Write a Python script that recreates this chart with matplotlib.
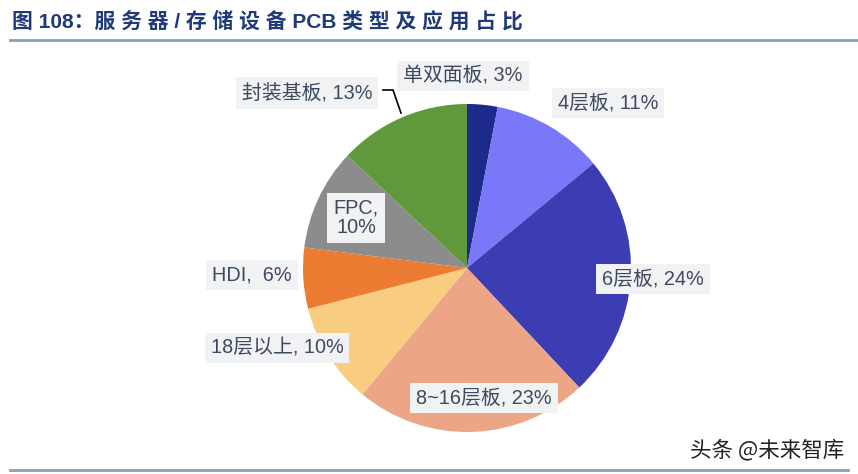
import matplotlib.pyplot as plt

plt.rcParams['font.family'] = ['Liberation Sans', 'Noto Sans CJK SC', 'DejaVu Sans']

# data
labels = ['单双面板', '4层板', '6层板', '8~16层板', '18层以上', 'HDI', 'FPC', '封装基板']
shares = [3, 11, 24, 23, 10, 6, 10, 13]
colors = ['#1c2a8c', '#7878f8', '#3d3db3', '#eca686', '#f8cd80', '#ec7c32', '#8c8c8c', '#5f993b']
label_text = ['单双面板, 3%', '4层板, 11%', '6层板, 24%', '8~16层板, 23%',
              '18层以上, 10%', 'HDI,  6%', 'FPC,\n10%', '封装基板, 13%']
# label centres in pixel coords (x, y from top)
label_pos = [(463, 76), (608, 103), (653, 279), (484, 398),
             (277, 348), (252, 275), (356, 218), (307, 93)]

W, H = 858, 474
fig = plt.figure(figsize=(W / 100, H / 100), dpi=100)
ax = fig.add_axes([0, 0, 1, 1])

ax.pie(shares, colors=colors, startangle=90, counterclock=False,
       center=(467, H - 268), radius=164, frame=True,
       wedgeprops=dict(linewidth=0))
ax.set_xlim(0, W)
ax.set_ylim(0, H)
ax.set_aspect('equal')
ax.axis('off')

for txt, (x, y) in zip(label_text, label_pos):
    ax.text(x, H - y, txt, ha='center', va='center', fontsize=14.3, color='#3b4a5e',
            linespacing=1.0,
            bbox=dict(boxstyle='square,pad=0.3', facecolor='#f1f2f4', edgecolor='none'))

# leader line for 封装基板
ax.plot([383, 393, 401], [H - 90, H - 90, H - 113], color='black', lw=1.2)

# title and rules
title = '图 108：' + ' '.join('服务器/存储设备') + ' PCB ' + ' '.join('类型及应用占比')
fig.text(12 / W, 1 - 21 / H, title,
         fontsize=15, fontweight='bold', color='#1f3a78', ha='left', va='center')
ax.plot([10, W], [H - 40, H - 40], color='#8d9dbd', lw=2)
ax.plot([10, W - 10], [H - 470, H - 470], color='#8d9dbd', lw=2)

fig.text(767 / W, 1 - 450 / H, '头条 @未来智库', fontsize=15.5, color='#222222',
         ha='center', va='center', family=['Noto Sans CJK SC', 'DejaVu Sans'])

fig.savefig('out.png', dpi=100)
